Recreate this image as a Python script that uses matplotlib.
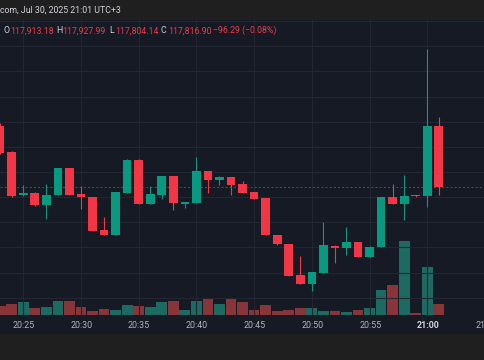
import matplotlib
matplotlib.use("Agg")
import matplotlib.pyplot as plt
from matplotlib.patches import Rectangle
import numpy as np

# ---------------- data ----------------
times = ["20:23", "20:24", "20:25", "20:26", "20:27", "20:28", "20:29", "20:30",
         "20:31", "20:32", "20:33", "20:34", "20:35", "20:36", "20:37", "20:38",
         "20:39", "20:40", "20:41", "20:42", "20:43", "20:44", "20:45", "20:46",
         "20:47", "20:48", "20:49", "20:50", "20:51", "20:52", "20:53", "20:54",
         "20:55", "20:56", "20:57", "20:58", "20:59", "21:00", "21:01"]
opens = [117913.6, 117871.3, 117802.9, 117807.0, 117787.0, 117803.4, 117845.9, 117804.5,
         117800.7, 117747.7, 117739.3, 117807.0, 117859.5, 117789.1, 117803.4, 117833.1,
         117789.5, 117791.1, 117841.6, 117827.7, 117831.5, 117820.4, 117807.7, 117798.1,
         117739.7, 117725.4, 117676.1, 117661.8, 117679.8, 117722.7, 117719.5, 117728.6,
         117705.2, 117720.6, 117800.2, 117789.1, 117802.9, 117801.8, 117913.18]
highs = [117918.0, 117873.0, 117819.3, 117808.0, 117820.9, 117846.5, 117846.5, 117817.7,
         117801.0, 117768.4, 117808.5, 117860.0, 117860.0, 117817.7, 117833.5, 117833.5,
         117792.5, 117863.4, 117842.0, 117834.1, 117832.0, 117826.1, 117808.0, 117798.5,
         117740.0, 117725.8, 117706.3, 117680.8, 117760.9, 117723.1, 117752.9, 117729.0,
         117721.5, 117800.6, 117820.9, 117835.2, 117803.2, 118035.7, 117927.99]
lows = [117868.0, 117800.0, 117802.0, 117786.0, 117765.7, 117803.0, 117803.0, 117781.6,
        117746.0, 117739.0, 117739.0, 117806.5, 117788.5, 117789.0, 117797.5, 117779.0,
        117783.2, 117790.8, 117807.0, 117819.3, 117803.9, 117806.5, 117797.0, 117739.0,
        117724.5, 117674.6, 117661.4, 117651.1, 117679.4, 117694.7, 117708.4, 117704.8,
        117704.8, 117720.2, 117788.7, 117764.1, 117801.0, 117784.8, 117804.14]
closes = [117870.7, 117802.3, 117807.0, 117787.0, 117803.9, 117845.9, 117803.4, 117799.7,
          117746.6, 117739.3, 117808.1, 117859.5, 117789.1, 117804.5, 117833.1, 117790.2,
          117792.2, 117841.6, 117827.7, 117831.5, 117819.8, 117807.0, 117797.5, 117739.3,
          117724.9, 117675.0, 117661.8, 117680.4, 117723.3, 117718.6, 117728.6, 117705.2,
          117721.1, 117800.2, 117789.1, 117802.3, 117801.3, 117913.2, 117816.90]
volumes = [9.4, 11.0, 12.7, 6.7, 7.7, 14.4, 14.4, 7.7, 3.7, 5.7, 5.4, 9.7, 9.4, 8.0,
           12.7, 13.7, 4.7, 13.7, 17.4, 10.7, 15.7, 12.7, 4.7, 10.0, 3.7, 4.7, 7.4, 7.4,
           4.4, 4.4, 3.0, 4.7, 6.7, 25.4, 29.7, 73.7, 1.7, 48.0, 10.7]
tick_labels = ["20:25", "20:30", "20:35", "20:40", "20:45", "20:50", "20:55", "21:00", "21:05"]
header_title = "com, Jul 30, 2025 21:01 UTC+3"
change_text = "\u221296.29 (\u22120.08%)"

# ---------------- style ----------------
W, H = 485, 360
UP = "#089981"
DOWN = "#f23645"
UP_VOL = "#1d6a62"
DOWN_VOL = "#883539"
CHART_BG = "#161a25"
OUTER_BG = "#1f1f1f"
GRID = "#222633"
TEXT = "#d1d4dc"
AXIS_TXT = "#b2b5be"
FONT = ["Roboto", "DejaVu Sans"]
FS = 6.3

def to_min(s):
    hh, mm = s.split(":")
    return int(hh) * 60 + int(mm)

t0 = to_min(times[0])
x = np.array([to_min(t) - t0 for t in times], dtype=float)
tick_x = np.array([to_min(t) - t0 for t in tick_labels], dtype=float)
o = np.array(opens); h = np.array(highs); l = np.array(lows); c = np.array(closes)
v = np.array(volumes)
up = c >= o

fig = plt.figure(figsize=(W / 100, H / 100), dpi=100)
fig.patch.set_facecolor(OUTER_BG)

# chart background (incl. time axis strip)
chart_top_px, chart_bot_px, axis_bot_px = 19.5, 315.0, 333.5
fig.patches.append(Rectangle((0, (H - axis_bot_px) / H), 1, (axis_bot_px - chart_top_px) / H,
                             transform=fig.transFigure, facecolor=CHART_BG,
                             edgecolor="none", zorder=-5))

ax_rect = [0, (H - chart_bot_px) / H, 1, (chart_bot_px - chart_top_px) / H]
axv = fig.add_axes(ax_rect)
ax = fig.add_axes(ax_rect, sharex=axv)
for a in (ax, axv):
    a.set_facecolor("none")
    for s in a.spines.values():
        s.set_visible(False)
    a.tick_params(length=0, labelleft=False, labelbottom=False, left=False, bottom=False)

# x range: one minute ~ 11.58 px
px_per_min = 11.577
x_left = -0.15 / px_per_min
axv.set_xlim(x_left, x_left + W / px_per_min)

# price scale
ax.set_ylim(117612.5, 118082.6)
ax.set_yticks(np.arange(117640, 118081, 40))
ax.set_xticks(tick_x)
ax.grid(True, color=GRID, linewidth=0.8, zorder=0)
ax.set_axisbelow(True)

# volume
axv.set_ylim(0, v.max() * 295.5 / 73.7)
axv.set_yticks([])
axv.bar(x, v, width=0.93, color=np.where(up, UP_VOL, DOWN_VOL), zorder=1)

# candles
cols = np.where(up, UP, DOWN)
ax.vlines(x, l, h, colors=cols, linewidth=0.8, zorder=3)
body_bot = np.minimum(o, c)
body_h = np.maximum(np.abs(c - o), 0.9)
ax.bar(x, body_h, bottom=body_bot, width=0.75, color=cols, zorder=4, linewidth=0)

# last price dotted line
ax.axhline(c[-1], color=DOWN, alpha=0.55, linewidth=0.75, linestyle=(0, (2, 2)), zorder=2)

# time labels
for tx, lab in zip(tick_x, tick_labels):
    xf = (tx - x_left) * px_per_min / W
    bold = lab == "21:00"
    fig.text(xf, (H - 325.0) / H, lab, ha="center", va="center", fontsize=6.4,
             color=TEXT if bold else AXIS_TXT, family=FONT,
             fontweight="bold" if bold else "normal")

# header
fig.text(-0.5 / W, (H - 10.0) / H, header_title, ha="left", va="center",
         fontsize=FS, color=TEXT, family=FONT)

vals = [o[-1], h[-1], l[-1], c[-1]]
letters = ["O", "H", "L", "C"]
letter_x = [3.5, 56.5, 109.0, 161.0]
val_x = [10.5, 62.5, 115.5, 168.0]
yh = (H - 30.7) / H
for lt, lx, vx, val in zip(letters, letter_x, val_x, vals):
    fig.text(lx / W, yh, lt, ha="left", va="center", fontsize=FS, color=TEXT, family=FONT)
    fig.text(vx / W, yh, f"{val:,.2f}", ha="left", va="center", fontsize=FS,
             color=DOWN, family=FONT)
fig.text(213.0 / W, yh, change_text, ha="left", va="center", fontsize=FS,
         color=DOWN, family=FONT)

fig.savefig("out.png", dpi=100, facecolor=fig.get_facecolor())
